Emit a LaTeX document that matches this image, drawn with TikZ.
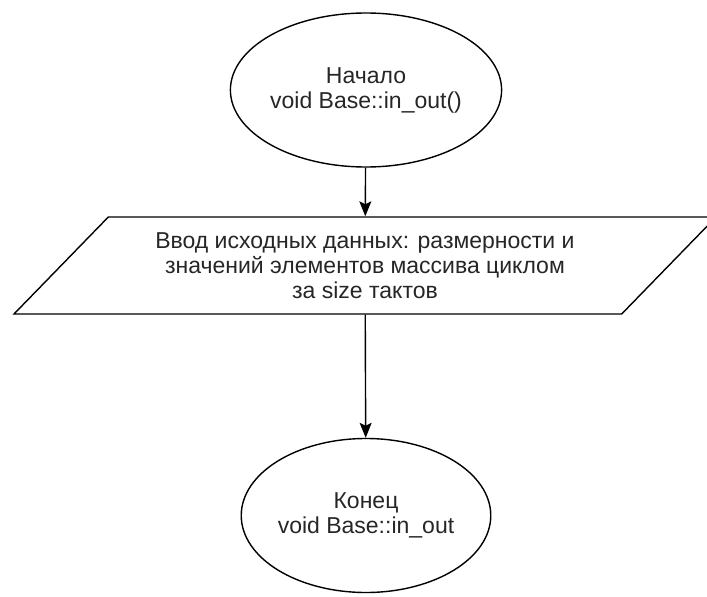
\documentclass[tikz,border=0pt]{standalone}
\usepackage{fontspec}
\setmainfont{Liberation Sans}
\usetikzlibrary{shapes.geometric,arrows.meta,positioning}

\begin{document}
\begin{tikzpicture}[
    x=1pt, y=-1pt,
    line width=1.4pt,
    terminal/.style = {ellipse, draw, minimum width=231pt, minimum height=154pt, inner sep=0pt, align=center, font=\fontsize{23}{25}\selectfont, text=black!85},
    io/.style = {trapezium, draw, trapezium left angle=35, trapezium right angle=145, trapezium stretches body, minimum width=702pt, minimum height=97pt, inner sep=0pt, align=center, font=\fontsize{23}{25}\selectfont, text=black!85},
    arrow/.style = {-{Stealth[length=15pt, width=12pt, inset=3pt]}}
]
    \useasboundingbox (0,0) rectangle (707,597);
    \node[terminal] (start) at (366,90) {Начало \\ void Base::in\_out()};
    \node[io] (input) at (365,265.5) {Ввод исходных данных: размерности и \\ значений элементов массива циклом \\ за size тактов};
    \node[terminal] (stop) at (366,515.5) {Конец \\ void Base::in\_out};
    \draw[arrow] (start) -- (input);
    \draw[arrow] (input) -- (stop);
\end{tikzpicture}
\end{document}
